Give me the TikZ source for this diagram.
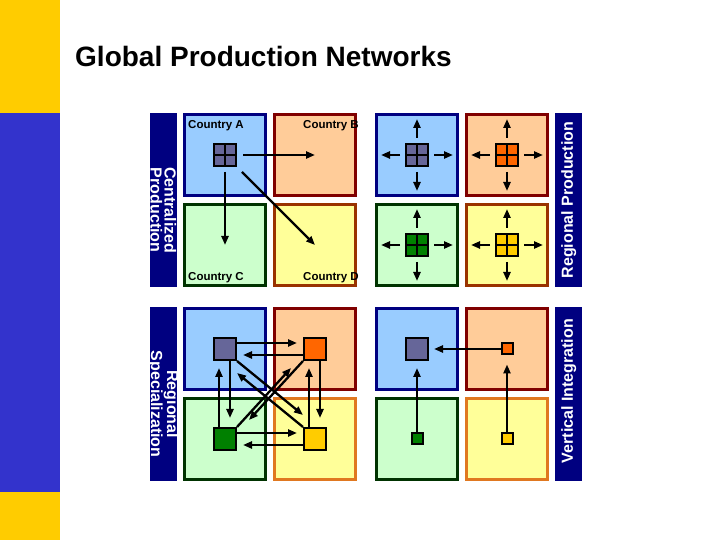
\documentclass[tikz,border=0pt]{standalone}
\usepackage{fontspec}
\setmainfont{Liberation Sans}
\usepackage{tikz}
\usetikzlibrary{arrows.meta, positioning}
\definecolor{slidegold}{HTML}{FFCC00}
\definecolor{slideblue}{HTML}{3333CC}
\definecolor{barnavy}{HTML}{000080}
\definecolor{skyfill}{HTML}{99CCFF}
\definecolor{peachfill}{HTML}{FFCC99}
\definecolor{mintfill}{HTML}{CCFFCC}
\definecolor{lemonfill}{HTML}{FFFF99}
\definecolor{navyedge}{HTML}{000080}
\definecolor{maroonedge}{HTML}{800000}
\definecolor{forestedge}{HTML}{003300}
\definecolor{brownedge}{HTML}{993300}
\definecolor{amberedge}{HTML}{E07820}
\definecolor{slate}{HTML}{666699}
\definecolor{tangerine}{HTML}{FF6600}
\definecolor{leaf}{HTML}{008000}
\definecolor{goldbox}{HTML}{FFCC00}

\begin{document}
\begin{tikzpicture}[
    x=1pt, y=1pt,
    node distance=6pt,
    every node/.style={font=\bfseries},
    cell/.style={
        rectangle,
        line width=3pt,
        minimum size=81pt,
        inner sep=0pt
    },
    bluecell/.style={cell, draw=navyedge, fill=skyfill},
    orangecell/.style={cell, draw=maroonedge, fill=peachfill},
    greencell/.style={cell, draw=forestedge, fill=mintfill},
    yellowcell/.style={cell, draw=brownedge, fill=lemonfill},
    bar/.style={fill=barnavy, minimum width=27pt, minimum height=174pt, inner sep=0pt, anchor=north east},
    bartext/.style={text=white, font=\bfseries\fontsize{16}{14}\selectfont, align=center, inner sep=0pt},
    country/.style={font=\bfseries\fontsize{11.5}{13}\selectfont, anchor=base west, inner sep=0pt},
    unit/.style={draw, line width=2pt, minimum size=22pt, inner sep=0pt},
    part/.style={draw, line width=2pt, minimum size=11pt, inner sep=0pt},
    plant/.style={
        unit,
        path picture={\draw[line width=2pt]
            (path picture bounding box.north) -- (path picture bounding box.south)
            (path picture bounding box.west) -- (path picture bounding box.east);}
    },
    flow/.style={line width=2.3pt, -{Triangle[length=9pt,width=7pt]}}
]

% slide frame
\fill[white] (0,0) rectangle (720,540);
\fill[slidegold] (0,427) rectangle (60,540);
\fill[slideblue] (0,48) rectangle (60,427);
\fill[slidegold] (0,0) rectangle (60,48);
\node[anchor=west, inner sep=0pt, font=\bfseries\fontsize{28}{32}\selectfont] (title) at (75,483) {Global Production Networks};

% the four panels
\node[bluecell] (cenA) at (225,385) {};
\node[orangecell, right=of cenA] (cenB) {};
\node[greencell, below=of cenA] (cenC) {};
\node[yellowcell, below=of cenB] (cenD) {};

\node[bluecell, right=18pt of cenB] (regA) {};
\node[orangecell, right=of regA] (regB) {};
\node[greencell, below=of regA] (regC) {};
\node[yellowcell, below=of regB] (regD) {};

\node[bluecell, below=20pt of cenC] (specA) {};
\node[orangecell, right=of specA] (specB) {};
\node[greencell, below=of specA] (specC) {};
\node[yellowcell, draw=amberedge, below=of specB] (specD) {};

\node[bluecell, below=20pt of regC] (vertA) {};
\node[orangecell, right=of vertA] (vertB) {};
\node[greencell, below=of vertA] (vertC) {};
\node[yellowcell, draw=amberedge, below=of vertB] (vertD) {};

% side bars
\node[bar] (cenbar) at ([xshift=-6pt]cenA.north west) {};
\node[bartext, rotate=-90] (centxt) at ([yshift=-10pt]cenbar.center) {Centralized\\Production};
\node[bar, anchor=north west] (regbar) at ([xshift=6pt]regB.north east) {};
\node[bartext, rotate=90] (regtxt) at (regbar.center) {Regional Production};
\node[bar] (specbar) at ([xshift=-6pt]specA.north west) {};
\node[bartext, rotate=-90] (spectxt) at ([yshift=-10pt]specbar.center) {Regional\\Specialization};
\node[bar, anchor=north west] (vertbar) at ([xshift=6pt]vertB.north east) {};
\node[bartext, rotate=90] (verttxt) at ([yshift=3pt]vertbar.center) {Vertical Integration};

\node[country] (lblA) at ([shift={(5pt,-16pt)}]cenA.north west) {Country A};
\node[country] (lblB) at ([shift={(30pt,-16pt)}]cenB.north west) {Country B};
\node[country] (lblC) at ([shift={(5pt,6pt)}]cenC.south west) {Country C};
\node[country] (lblD) at ([shift={(30pt,6pt)}]cenD.south west) {Country D};

% centralized production
\node[plant, fill=slate] (cenF) at (cenA) {};
\draw[flow] ([xshift=6pt]cenF.east) -- (cenB.center);
\draw[flow] ([yshift=-5pt]cenF.south) -- (cenC.center);
\draw[flow] ([shift={(5pt,-5pt)}]cenF.south east) -- (cenD.center);

% regional production
\node[plant, fill=slate] (regA-f) at (regA) {};
\node[plant, fill=tangerine] (regB-f) at (regB) {};
\node[plant, fill=leaf] (regC-f) at (regC) {};
\node[plant, fill=goldbox] (regD-f) at (regD) {};
\foreach \c in {regA,regB,regC,regD} {
    \draw[flow] ([yshift=5pt]\c-f.north) -- ([yshift=-6pt]\c.north);
    \draw[flow] ([yshift=-5pt]\c-f.south) -- ([yshift=6pt]\c.south);
    \draw[flow] ([xshift=5pt]\c-f.east) -- ([xshift=-6pt]\c.east);
    \draw[flow] ([xshift=-5pt]\c-f.west) -- ([xshift=6pt]\c.west);
}

% regional specialization
\node[unit, fill=slate] (specS) at (specA) {};
\node[unit, fill=tangerine] (specO) at (specB) {};
\node[unit, fill=leaf] (specG) at (specC) {};
\node[unit, fill=goldbox] (specY) at (specD) {};
\draw[flow] ([yshift=6pt]specS.east) -- ([shift={(-6pt,6pt)}]specO.west);
\draw[flow] ([yshift=-6pt]specO.west) -- ([shift={(6pt,-6pt)}]specS.east);
\draw[flow] ([yshift=6pt]specG.east) -- ([shift={(-6pt,6pt)}]specY.west);
\draw[flow] ([yshift=-6pt]specY.west) -- ([shift={(6pt,-6pt)}]specG.east);
\draw[flow] ([xshift=-6pt]specG.north) -- ([shift={(-6pt,-7pt)}]specS.south);
\draw[flow] ([xshift=5pt]specS.south) -- ([shift={(5pt,9pt)}]specG.north);
\draw[flow] ([xshift=-6pt]specY.north) -- ([shift={(-6pt,-7pt)}]specO.south);
\draw[flow] ([xshift=5pt]specO.south) -- ([shift={(5pt,9pt)}]specY.north);
\draw[flow] (specS.south east) -- ([yshift=12pt]specY.north west);
\draw[flow] (specY.north west) -- ([yshift=-12pt]specS.south east);
\draw[flow] (specG.north east) -- ([shift={(-12pt,-7pt)}]specO.south west);
\draw[flow] (specO.south west) -- ([shift={(12pt,7pt)}]specG.north east);

% vertical integration
\node[unit, fill=slate] (vertS) at (vertA) {};
\node[part, fill=tangerine] (vertO) at (vertB) {};
\node[part, fill=leaf] (vertG) at (vertC) {};
\node[part, fill=goldbox] (vertY) at (vertD) {};
\draw[flow] (vertO.west) -- ([xshift=5pt]vertS.east);
\draw[flow] (vertG.north) -- ([yshift=-7pt]vertS.south);
\draw[flow] (vertY.north) -- ([yshift=-9pt]vertO.south);

\end{tikzpicture}
\end{document}
